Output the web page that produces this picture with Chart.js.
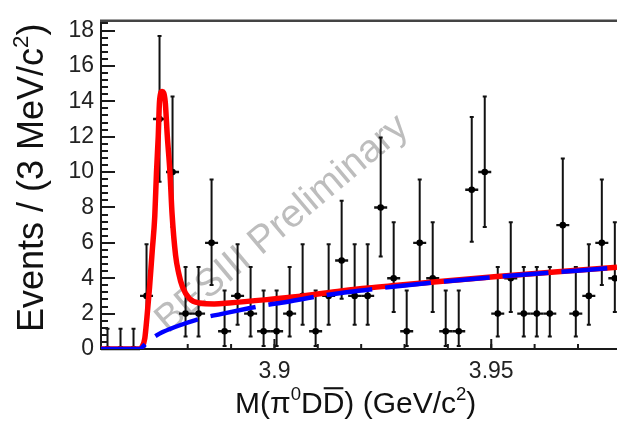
<!DOCTYPE html>
<html><head><meta charset="utf-8">
<script src="https://cdn.jsdelivr.net/npm/chart.js@4"></script>
<style>html,body{margin:0;padding:0;background:#fff;overflow:hidden}</style>
</head><body>
<canvas id="c" width="621" height="424" style="display:block;width:621px;height:424px"></canvas>
<script>
// ---- data ----
const binCenters = [3.8615,3.8645,3.8675,3.8705,3.8735,3.8765,3.8795,3.8825,3.8855,3.8885,
                    3.8915,3.8945,3.8975,3.9005,3.9035,3.9065,3.9095,3.9125,3.9155,3.9185,
                    3.9215,3.9245,3.9275,3.9305,3.9335,3.9365,3.9395,3.9425,3.9455,3.9485,
                    3.9515,3.9545,3.9575,3.9605,3.9635,3.9665,3.9695,3.9725,3.9755,3.9785];
const counts = [0,0,0,3,13,10,2,2,6,1, 3,2,1,1,2,3,1,3,5,3, 3,8,4,1,6,4,1,1,9,10, 2,4,2,2,2,7,2,3,6,4];
const binWidth = 0.003;
// Poisson error-bar ends, indexed by count (as drawn in the picture)
const bandLo = [0,0.17,0.71,1.37,2.09,2.84,3.62,4.42,5.23,6.06,6.89,7.7,8.6,9.45];
const bandHi = [1.15,3.30,4.64,5.92,7.16,8.38,9.58,10.77,11.95,13.11,14.27,15.4,16.6,17.69];

const bkgMass  = [3.8600,3.8690,3.8697,3.8712,3.8735,3.8777,3.8842,3.8876,3.8941,3.8982,3.9016,3.9101,3.9154,3.9216,3.9284,3.9513,3.9790];
const bkgLevel = [0,0,0.15,0.5,0.87,1.3,1.8,1.97,2.3,2.49,2.61,2.98,3.17,3.35,3.55,4.08,4.6];

const totMass  = [3.8600,3.8690,3.8694,3.8701,3.8706,3.8712,3.8718,3.8724,3.8728,3.8732,3.8735,3.8741,3.8748,3.8753,3.8759,3.8764,3.8772,3.8779,3.8788,3.8804,3.8827,3.8861,3.8895,3.8987,3.9055,3.9154,3.9216,3.9284,3.9513,3.9790];
const totLevel = [0,0,0.1,0.6,1.8,3.5,5.5,7.5,10,12,14,14.55,14,12,10,7.6,5.3,4.3,3.5,2.85,2.6,2.55,2.6,2.8,2.97,3.28,3.45,3.6,4.1,4.62];

const xTickLabels = [3.9, 3.95];
const yTickLabels = [0,2,4,6,8,10,12,14,16,18];
const xTitle = [{t:'M(\u03c0'},{t:'0',sup:1},{t:'D'},{t:'D',bar:1},{t:') (GeV/c'},{t:'2',sup:1},{t:')'}];
const yTitle = [{t:'Events / (3 MeV/c'},{t:'2',sup:1},{t:')'}];
const watermark = 'BESIII Preliminary';

// ---- drawing ----
const FONT = '"Liberation Sans", Arial, sans-serif';
function drawRich(ctx, parts, x, y, size){
  let cx = x;
  ctx.textBaseline = 'alphabetic'; ctx.textAlign = 'left';
  parts.forEach(p=>{
    const s = p.sup ? size*0.62 : size;
    ctx.font = s + 'px ' + FONT;
    const dy = p.sup ? -size*0.42 : 0;
    ctx.fillText(p.t, cx, y+dy);
    const w = ctx.measureText(p.t).width;
    if (p.bar) ctx.fillRect(cx+1, y - size*0.86, w-2, Math.max(2, size*0.07));
    cx += w;
  });
}

const decor = {
  id:'decor',
  beforeDatasetsDraw(chart){
    const {ctx, chartArea:a, scales:{x, y}} = chart;
    ctx.save();
    // watermark
    ctx.save();
    ctx.translate(168, 334);
    ctx.rotate(-40*Math.PI/180);
    ctx.font = '39px ' + FONT;
    ctx.fillStyle = '#bdbdbd';
    ctx.textBaseline = 'alphabetic';
    ctx.fillText(watermark, 0, 0);
    ctx.restore();

    // error bars
    ctx.save();
    ctx.beginPath(); ctx.rect(a.left, a.top, a.right-a.left, a.bottom-a.top+2); ctx.clip();
    ctx.strokeStyle = '#111';
    binCenters.forEach((m,i)=>{
      const n = counts[i];
      const px = x.getPixelForValue(m);
      const pLo = y.getPixelForValue(bandLo[n]), pHi = y.getPixelForValue(bandHi[n]);
      const py = y.getPixelForValue(n);
      ctx.lineWidth = 2;
      ctx.beginPath(); ctx.moveTo(px, pLo); ctx.lineTo(px, pHi); ctx.stroke();
      ctx.beginPath(); ctx.moveTo(px-2, pHi); ctx.lineTo(px+2, pHi); ctx.stroke();
      if (n > 0){ ctx.beginPath(); ctx.moveTo(px-2, pLo); ctx.lineTo(px+2, pLo); ctx.stroke(); }
      ctx.lineWidth = 2.4;
      const xl = x.getPixelForValue(m - binWidth/2), xr = x.getPixelForValue(m + binWidth/2);
      ctx.beginPath(); ctx.moveTo(xl, py); ctx.lineTo(xr, py); ctx.stroke();
    });
    ctx.restore();

    // frame and inward ticks
    ctx.strokeStyle = '#1a1a1a';
    ctx.lineWidth = 2;
    ctx.beginPath();
    ctx.moveTo(a.left, a.top); ctx.lineTo(a.left, a.bottom);
    ctx.moveTo(a.left-1, a.bottom); ctx.lineTo(a.right, a.bottom);
    ctx.stroke();
    ctx.strokeStyle = '#444'; ctx.lineWidth = 2.5;
    ctx.beginPath(); ctx.moveTo(a.left-1, a.top); ctx.lineTo(a.right, a.top); ctx.stroke();
    ctx.strokeStyle = '#1a1a1a'; ctx.lineWidth = 2;
    for (let v = 0; v <= y.max + 1e-9; v += 0.4){
      const major = Math.abs(v/2 - Math.round(v/2)) < 1e-6;
      const py = Math.round(y.getPixelForValue(v));
      ctx.beginPath(); ctx.moveTo(a.left, py); ctx.lineTo(a.left + (major?14:7), py); ctx.stroke();
    }
    for (let k = Math.ceil(x.min/0.01); k*0.01 <= x.max; k++){
      const px = x.getPixelForValue(k*0.01);
      ctx.beginPath(); ctx.moveTo(px, a.bottom); ctx.lineTo(px, a.bottom - 5); ctx.stroke();
    }
    xTickLabels.forEach(v=>{
      const px = x.getPixelForValue(v);
      ctx.beginPath(); ctx.moveTo(px, a.bottom); ctx.lineTo(px, a.bottom - 10); ctx.stroke();
    });
    ctx.restore();
  },
  afterDraw(chart){
    const {ctx} = chart;
    ctx.save();
    ctx.fillStyle = '#111';
    drawRich(ctx, xTitle, 235, 413, 30);
    ctx.translate(43, 332);
    ctx.rotate(-Math.PI/2);
    drawRich(ctx, yTitle, 0, 0, 36);
    ctx.restore();
  }
};

const pts = (xs, ys) => xs.map((v,i)=>({x:v, y:ys[i]}));

new Chart(document.getElementById('c'), {
  type: 'scatter',
  data: { datasets: [
    { type:'line', label:'Background', data: pts(bkgMass, bkgLevel), borderColor:'#0000ff', borderWidth:4.5,
      borderDash:[46,13], pointRadius:0, cubicInterpolationMode:'monotone', fill:false, order:1 },
    { type:'line', label:'Total fit', data: pts(totMass, totLevel), borderColor:'#ff0000', borderWidth:5.5,
      pointRadius:0, cubicInterpolationMode:'monotone', fill:false, order:2 },
    { label:'Data', data: pts(binCenters, counts), pointRadius:3.3, pointBackgroundColor:'#000',
      pointBorderWidth:0, order:3 }
  ]},
  options: {
    responsive:false, animation:false, devicePixelRatio:1, events:[],
    layout:{ padding:{ top:13, left:0, right:0, bottom:0 } },
    plugins:{ legend:{display:false}, tooltip:{enabled:false} },
    scales:{
      x:{ type:'linear', min:3.86, max:3.979,
          afterBuildTicks: s => { s.ticks = xTickLabels.map(v=>({value:v})); },
          afterFit: s => { s.height = 75; },
          ticks:{ font:{family:FONT, size:23}, color:'#222', padding:9, maxRotation:0,
                  callback: v => String(v) },
          grid:{ display:false, drawTicks:false }, border:{ display:false } },
      y:{ type:'linear', min:0, max:18.55,
          afterBuildTicks: s => { s.ticks = yTickLabels.map(v=>({value:v})); },
          afterFit: s => { s.width = 101; },
          ticks:{ font:{family:FONT, size:23}, color:'#222', padding:7, callback: v => String(v) },
          grid:{ display:false, drawTicks:false }, border:{ display:false } }
    }
  },
  plugins:[decor]
});
</script>
</body></html>
